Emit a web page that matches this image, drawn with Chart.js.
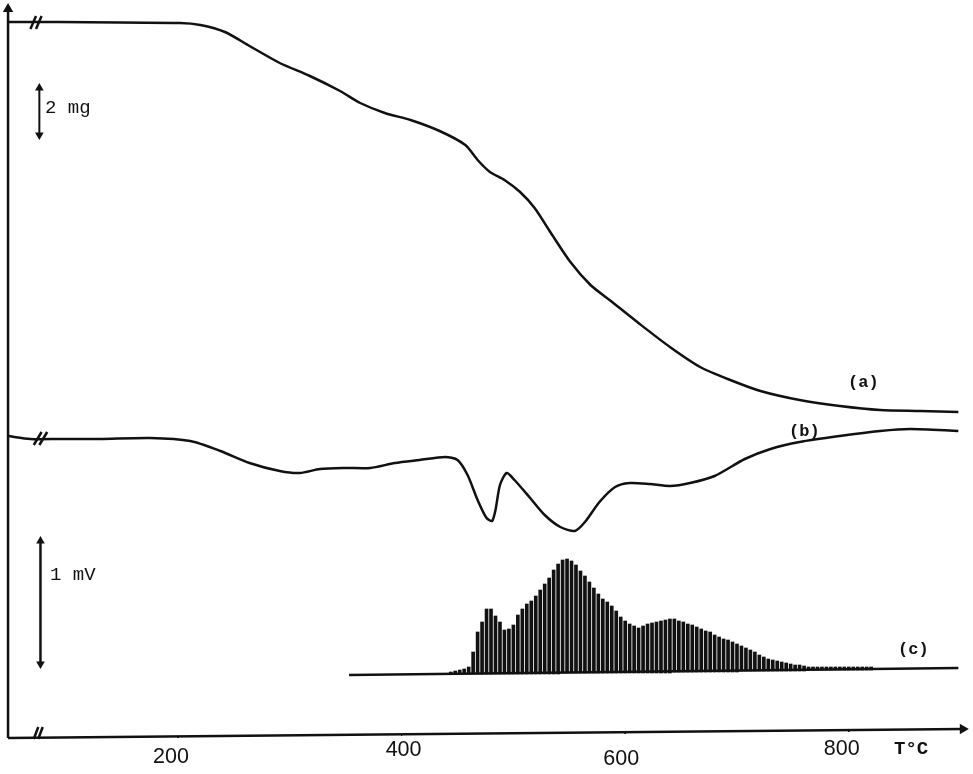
<!DOCTYPE html>
<html><head><meta charset="utf-8">
<style>html,body{margin:0;padding:0;background:#fff}canvas{display:block}</style>
<script src="https://cdn.jsdelivr.net/npm/chart.js@4"></script>
</head><body><canvas id="c" width="973" height="774"></canvas>
<script>
// Temperatures in deg C; vertical values are read as distance down the figure.
const xTicks = [200, 400, 600, 800];
const tickNudgeX = [-7, 2, -4, -7];
const tickLabelY = [757, 750, 759, 749];

const curveAT = [48,77,94,202,220,242,264,291,318,345,363,385,408,434,457,468,479,492,506,519,533,551,569,586,613,640,667,694,721,756,792,828,864,898];
const curveAY = [22,22,22,23,25,32,46,63,76,91,103,113,120,131,145,160,172,180,192,208,232,262,285,300,324,347,367,380,391,400,406,410,411,412];

const curveBT = [48,68,94,130,175,211,238,264,291,309,327,349,372,394,416,439,450,459,468,476,481,484,488,494,501,515,528,542,555,564,577,591,604,622,640,658,680,707,730,756,792,828,855,898];
const curveBY = [436,439,439,439,438,441,451,463,471,473,469,468,468,463,460,457,460,475,500,518,521,510,485,473,480,498,515,527,531,522,502,487,483,484,486,483,476,459,449,442,436,431,429,431];

const barT = [444,448,452,456,460,464,468,472,476,480,484,488,492,496,500,504,508,512,516,520,524,528,532,536,540,544,548,552,556,560,564,568,572,576,580,584,588,592,596,600,604,608,612,616,620,624,628,632,636,640,644,648,652,656,660,664,668,672,676,680,684,688,692,696,700,704,708,712,716,720,724,728,732,736,740,744,748,752,756,760,764,768,772,776,780,784,788,792,796,800,804,808,812,816,820];
const barTop = [672,671,670,669,667,652,632,622,609,609,616,622,630,629,625,615,609,604,601,596,590,584,578,570,564,560,559,561,565,571,576,582,588,594,599,602,606,611,617,621,624,626,628,626,624,623,622,621,620,619,619,621,622,624,625,627,629,631,632,635,637,639,640,642,644,646,648,650,652,655,657,659,660,661,662,663,664,665,665,666,667,667,667,667,667,667,667,667,667,667,667,667,667,667,667];
const barLow = [674,674,674,674,674,674,674,674,674,674,674,674,674,674,674,674,674,674,674,674,674,674,674,674,674,673,673,673,673,673,673,673,673,673,673,673,673,673,673,673,673,673,673,673,673,673,673,673,673,673,672,672,672,672,672,672,672,672,672,672,672,672,672,672,672,671,671,671,671,671,671,671,671,671,671,671,671,671,671,671,670,670,670,670,670,670,670,670,670,670,670,670,670,670,670];

const baseT = [353, 898];
const baseY = [675, 668];
const xAxisT = [48, 902];
const xAxisY = [738, 729];
const yAxisT = [48, 48];
const yAxisY = [738, 9];
const mgBarT = [76, 76];
const mgBarY = [88, 135];
const mvBarT = [77, 77];
const mvBarY = [541, 664];
const breakT = [68,73,NaN,73,78,NaN,71,78,NaN,76,83,NaN,71,75,NaN,75,79];
const breakY = [29,16,NaN,29,16,NaN,445,432,NaN,445,432,NaN,739,727,NaN,739,727];
const tickMarkT = [200,200,NaN,400,400,NaN,600,600,NaN,800,800];
const tickMarkY = [736,738,NaN,734,736,NaN,732,734,NaN,730,732];

const notes = [
  ["2 mg", 45, 108, "19px 'Liberation Mono'"],
  ["1 mV", 50, 575, "19px 'Liberation Mono'"],
  ["(a)", 848, 383, "bold 17px 'Liberation Mono'"],
  ["(b)", 789, 432, "bold 17px 'Liberation Mono'"],
  ["(c)", 898, 650, "bold 17px 'Liberation Mono'"],
  ["T°C", 894, 749, "bold 19px 'Liberation Mono'"]
];

const ink = "#111";
const zip = (xs, ys) => xs.map((x, i) => ({x, y: ys[i]}));
const lineSet = (xs, ys, w, extra) => Object.assign({
  type: "line", data: zip(xs, ys), borderColor: ink, backgroundColor: ink,
  borderWidth: w, pointRadius: 0, tension: 0, spanGaps: false
}, extra || {});
const arrowSet = (xs, ys, w, r0, r1, rot0, rot1) => lineSet(xs, ys, w, {
  pointStyle: "triangle", pointRadius: [r0, r1], pointRotation: [rot0, rot1],
  pointBorderColor: ink, pointBackgroundColor: ink, pointBorderWidth: 0
});

const textPlugin = {
  id: "text",
  afterDraw(chart) {
    const ctx = chart.ctx, xs = chart.scales.x;
    ctx.save();
    ctx.fillStyle = ink;
    ctx.textBaseline = "middle";
    ctx.font = "21.5px 'Liberation Sans'";
    ctx.textAlign = "center";
    xTicks.forEach((t, i) => ctx.fillText(String(t), xs.getPixelForValue(t) + tickNudgeX[i], tickLabelY[i]));
    ctx.textAlign = "left";
    notes.forEach(n => { ctx.font = n[3]; ctx.fillText(n[0], n[1], n[2]); });
    ctx.restore();
  }
};

new Chart(document.getElementById("c"), {
  data: { datasets: [
    lineSet(curveAT, curveAY, 2.5, {tension: 0.25}),
    lineSet(curveBT, curveBY, 2.5, {tension: 0.25}),
    {type: "bar", data: barT.map((x, i) => ({x, y: [barLow[i], barTop[i]]})),
     backgroundColor: ink, borderWidth: 0, barThickness: 3},
    lineSet(baseT, baseY, 2.5),
    arrowSet(xAxisT, xAxisY, 2.5, 0, 6, 0, 90),
    arrowSet(yAxisT, yAxisY, 2.5, 0, 6, 0, 0),
    arrowSet(mgBarT, mgBarY, 2, 5, 5, 0, 180),
    arrowSet(mvBarT, mvBarY, 2.5, 5, 5, 0, 180),
    lineSet(breakT, breakY, 2.5),
    lineSet(tickMarkT, tickMarkY, 1)
  ]},
  options: {
    responsive: false, animation: false, devicePixelRatio: 1,
    layout: {padding: 0, autoPadding: false},
    plugins: {legend: {display: false}, tooltip: {enabled: false}},
    scales: {
      x: {type: "linear", min: 40.8, max: 911.1, offset: false, display: false},
      y: {type: "linear", min: 0, max: 774, reverse: true, display: false}
    }
  },
  plugins: [textPlugin]
});
</script></body></html>
